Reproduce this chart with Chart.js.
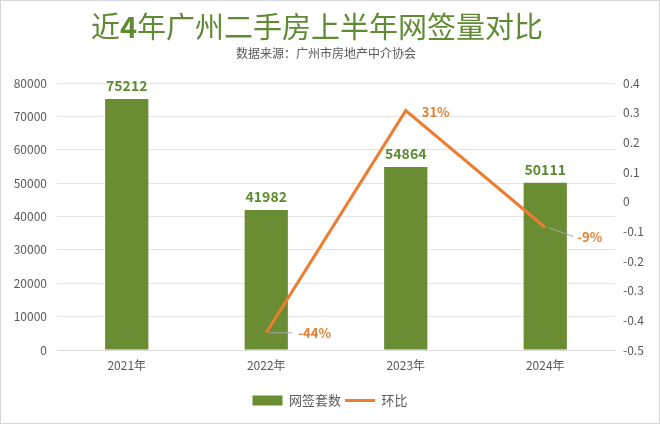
<!DOCTYPE html>
<html><head><meta charset="utf-8">
<script src="https://cdn.jsdelivr.net/npm/chart.js@4/dist/chart.umd.min.js"></script>
<style>html,body{margin:0;padding:0;background:#fff;}#wrap{width:660px;height:424px;position:relative;}</style>
</head><body><div id="wrap"><canvas id="c"></canvas></div>
<script>
const categories = ['2021年', '2022年', '2023年', '2024年'];
const signings = [75212, 41982, 54864, 50111];
const changeRate = [null, -0.442, 0.307, -0.087];
const seriesNames = ['网签套数', '环比'];
const titleParts = [['近', false], ['4', true], ['年广州二手房上半年网签量对比', false]];
const subtitleText = '数据来源：广州市房地产中介协会';

const FONT = '"Noto Sans CJK SC", "DejaVu Sans", sans-serif';
const GREEN = '#6a8c33';
const ORANGE = '#ed7d31';

const frame = {
  id: 'frame',
  beforeDraw(chart) {
    const c = chart.ctx;
    c.save(); c.fillStyle = '#fff'; c.fillRect(0, 0, chart.width, chart.height); c.restore();
  },
  afterDraw(chart) {
    const c = chart.ctx;
    c.save();
    c.textBaseline = 'middle';
    c.fillStyle = '#5f8b33';
    const fs = titleParts.map(p => (p[1] ? 'bold ' : '') + '29px ' + FONT);
    let total = 0;
    titleParts.forEach((p, i) => { c.font = fs[i]; total += c.measureText(p[0]).width; });
    let x = 317 - total / 2;
    c.textAlign = 'left';
    titleParts.forEach((p, i) => { c.font = fs[i]; c.fillText(p[0], x, 27); x += c.measureText(p[0]).width; });
    c.font = '12px ' + FONT;
    c.fillStyle = '#595959';
    c.textAlign = 'center';
    c.fillText(subtitleText, 326, 53);
    c.strokeStyle = '#d6d6d6'; c.lineWidth = 1;
    c.strokeRect(0.5, 0.5, chart.width - 1, chart.height - 1);
    c.restore();
  }
};

const valueLabels = {
  id: 'valueLabels',
  afterDatasetsDraw(chart) {
    const c = chart.ctx;
    c.save();
    const barMeta = chart.getDatasetMeta(0);
    c.font = 'bold 14px ' + FONT;
    c.fillStyle = '#5d8a2f';
    c.textAlign = 'center';
    c.textBaseline = 'bottom';
    barMeta.data.forEach((el, i) => {
      c.fillText(String(signings[i]), el.x, el.y - 6);
    });
    const lineMeta = chart.getDatasetMeta(1);
    c.font = 'bold 13px ' + FONT;
    c.textAlign = 'left';
    c.textBaseline = 'middle';
    lineMeta.data.forEach((el, i) => {
      const v = changeRate[i];
      if (v === null || v === undefined) return;
      const txt = Math.round(v * 100) + '%';
      let tx = el.x + 16, ty = el.y + 1;
      if (v < 0) {
        let ex, ey;
        if (i === 1) { ex = el.x + 26; ey = el.y; tx = el.x + 32; ty = el.y; }
        else { ex = el.x + 28; ey = el.y + 9; tx = el.x + 32; ty = el.y + 10; }
        c.strokeStyle = '#a6a6a6'; c.lineWidth = 1;
        c.beginPath(); c.moveTo(el.x + 3, el.y); c.lineTo(ex, ey); c.stroke();
      }
      c.fillStyle = '#e57e2f';
      c.fillText(txt, tx, ty);
    });
    c.restore();
  }
};

new Chart(document.getElementById('c'), {
  data: {
    labels: categories,
    datasets: [
      {
        type: 'bar', label: seriesNames[0], data: signings, yAxisID: 'y',
        backgroundColor: GREEN, borderWidth: 0, pointStyle: 'rect',
        categoryPercentage: 1, barPercentage: 0.31, order: 1
      },
      {
        type: 'line', label: seriesNames[1], data: changeRate, yAxisID: 'y1',
        borderColor: ORANGE, backgroundColor: ORANGE, borderWidth: 3,
        pointRadius: 0, pointStyle: 'line', tension: 0, spanGaps: false, order: 0
      }
    ]
  },
  options: {
    responsive: true, maintainAspectRatio: false, animation: false,
    layout: { padding: { left: 0, right: 0, top: 83, bottom: 7 } },
    plugins: {
      tooltip: { enabled: false },
      title: { display: false },
      subtitle: { display: false },
      legend: {
        position: 'bottom',
        labels: {
          usePointStyle: true, pointStyleWidth: 30, boxHeight: 10,
          color: '#595959', font: { family: FONT, size: 13 }, padding: 4,
          sort: (a, b) => a.datasetIndex - b.datasetIndex
        }
      }
    },
    scales: {
      x: {
        grid: { display: false, drawTicks: false },
        border: { display: true, color: '#d9d9d9', width: 1 },
        ticks: { color: '#595959', font: { family: FONT, size: 12 }, padding: 8 },
        afterFit(s) { s.height = 40; }
      },
      y: {
        position: 'left', min: 0, max: 80000,
        ticks: {
          stepSize: 10000, color: '#595959', font: { family: FONT, size: 12 }, padding: 10,
          callback: v => String(v)
        },
        grid: { color: '#e3e3e3', drawTicks: false },
        border: { display: false },
        afterFit(s) { s.width = 57; }
      },
      y1: {
        position: 'right', min: -0.5, max: 0.4,
        ticks: {
          stepSize: 0.1, color: '#595959', font: { family: FONT, size: 12 }, padding: 8,
          callback: v => String(Math.round(v * 10) / 10 || 0)
        },
        grid: { display: false, drawTicks: false },
        border: { display: false },
        afterFit(s) { s.width = 45; }
      }
    }
  },
  plugins: [frame, valueLabels]
});
</script>
</body></html>
